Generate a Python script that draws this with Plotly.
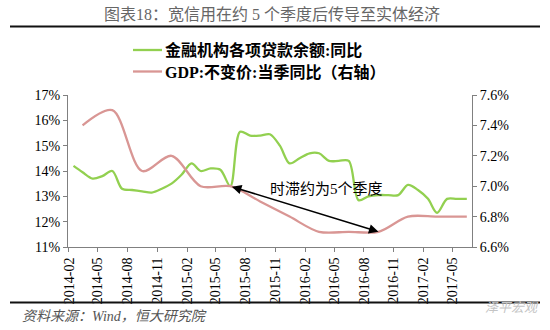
import plotly.graph_objects as go

# ---------------- data ----------------
loan_months = [
    "2014-02", "2014-03", "2014-04", "2014-05", "2014-06", "2014-07", "2014-08",
    "2014-09", "2014-10", "2014-11", "2014-12", "2015-01", "2015-02", "2015-03",
    "2015-04", "2015-05", "2015-06", "2015-07", "2015-08", "2015-09", "2015-10",
    "2015-11", "2015-12", "2016-01", "2016-02", "2016-03", "2016-04", "2016-05",
    "2016-06", "2016-07", "2016-08", "2016-09", "2016-10", "2016-11", "2016-12",
    "2017-01", "2017-02", "2017-03", "2017-04", "2017-05", "2017-06",
]
loan_yoy = [
    14.2, 13.95, 13.7, 13.8, 14.0, 13.3, 13.25,
    13.2, 13.15, 13.3, 13.5, 13.85, 14.3, 14.0,
    14.1, 14.05, 13.4, 15.55, 15.4, 15.4, 15.45,
    15.0, 14.3, 14.5, 14.7, 14.7, 14.4, 14.4,
    14.4, 12.85, 13.0, 13.05, 13.05, 13.05, 13.45,
    13.25, 12.9, 12.35, 12.9, 12.9, 12.9,
]

gdp_months = [
    "2014-03", "2014-06", "2014-09", "2014-12", "2015-03", "2015-06", "2015-09",
    "2015-12", "2016-03", "2016-06", "2016-09", "2016-12", "2017-03", "2017-06",
]
gdp_yoy = [7.4, 7.5, 7.1, 7.2, 7.0, 7.0, 6.9, 6.8, 6.7, 6.7, 6.7, 6.8, 6.8, 6.8]

tick_labels = [
    "2014-02", "2014-05", "2014-08", "2014-11", "2015-02", "2015-05", "2015-08",
    "2015-11", "2016-02", "2016-05", "2016-08", "2016-11", "2017-02", "2017-05",
]

left_range = [11, 17]
right_range = [6.6, 7.6]

title_text = "图表18：宽信用在约 5 个季度后传导至实体经济"
name_loan = "金融机构各项贷款余额:同比"
name_gdp = "GDP:不变价:当季同比（右轴）"
lag_text = "时滞约为5个季度"
source_text = "资料来源：Wind，恒大研究院"
watermark_text = "泽平宏观"

# ---------------- layout helpers ----------------
W, H = 550, 330
ML, MR, MT, MB = 68, 78, 95, 83
PW, PH = W - ML - MR, H - MT - MB


def px_x(px):
    return (px - ML) / PW


def px_y(py):
    return (H - MB - py) / PH


def mid(m):
    return m + "-15"


GREEN = "#92D050"
PINK = "#D99694"
SERIF = "Liberation Serif, Noto Sans CJK SC, serif"

fig = go.Figure()
fig.add_trace(go.Scatter(
    x=[mid(m) for m in loan_months], y=loan_yoy, name=name_loan,
    mode="lines", line=dict(color=GREEN, width=2.3, shape="spline", smoothing=0.9),
    yaxis="y", showlegend=False,
))
fig.add_trace(go.Scatter(
    x=[mid(m) for m in gdp_months], y=gdp_yoy, name=name_gdp,
    mode="lines", line=dict(color=PINK, width=2.3, shape="spline", smoothing=0.9),
    yaxis="y2", showlegend=False,
))


def right_to_left(v):
    return left_range[0] + (v - right_range[0]) / (right_range[1] - right_range[0]) * (left_range[1] - left_range[0])


i_start = loan_months.index("2015-06")
i_end = gdp_months.index("2016-09")

legend_font = dict(family=SERIF, size=16, color="black", weight="bold")

annotations = [
    # double-headed arrow
    dict(x=mid(gdp_months[i_end]), y=right_to_left(gdp_yoy[i_end]), xref="x", yref="y",
         ax=mid(loan_months[i_start]), ay=loan_yoy[i_start], axref="x", ayref="y",
         text="", showarrow=True, arrowhead=2, startarrowhead=2, arrowside="end+start",
         arrowsize=1.2, startarrowsize=1.2, arrowwidth=1.6, arrowcolor="black",
         standoff=0, startstandoff=0),
    dict(x="2016-04-06", y=13.28, xref="x", yref="y", text=lag_text, showarrow=False,
         font=dict(family=SERIF, size=15, color="black")),
    dict(x=px_x(272), y=px_y(15), xref="paper", yref="paper", text=title_text,
         showarrow=False, xanchor="center", yanchor="middle",
         font=dict(family=SERIF, size=16, color="#666666")),
    dict(x=px_x(20), y=px_y(316), xref="paper", yref="paper", text=source_text,
         showarrow=False, xanchor="left", yanchor="middle",
         font=dict(family=SERIF, size=14, color="#555555", style="italic")),
    dict(x=px_x(512), y=px_y(306), xref="paper", yref="paper", text=watermark_text,
         showarrow=False, xanchor="center", yanchor="middle",
         font=dict(family="Noto Sans CJK SC", size=13, color="#c4c4c4", style="italic")),
    # legend texts
    dict(x=px_x(163), y=px_y(50), xref="paper", yref="paper", text=name_loan,
         showarrow=False, xanchor="left", yanchor="middle", font=legend_font),
    dict(x=px_x(163), y=px_y(71.5), xref="paper", yref="paper", text=name_gdp,
         showarrow=False, xanchor="left", yanchor="middle", font=legend_font),
]

shapes = [
    dict(type="line", xref="paper", yref="paper", x0=px_x(10), x1=px_x(540),
         y0=px_y(26.5), y1=px_y(26.5), line=dict(color="#111111", width=2.2)),
    dict(type="line", xref="paper", yref="paper", x0=px_x(10), x1=px_x(540),
         y0=px_y(302.5), y1=px_y(302.5), line=dict(color="#111111", width=2.2)),
    # legend samples
    dict(type="line", xref="paper", yref="paper", x0=px_x(133), x1=px_x(162),
         y0=px_y(50), y1=px_y(50), line=dict(color=GREEN, width=2.3)),
    dict(type="line", xref="paper", yref="paper", x0=px_x(133), x1=px_x(162),
         y0=px_y(71.5), y1=px_y(71.5), line=dict(color=PINK, width=2.3)),
]

axis_font = dict(family=SERIF, size=14, color="black")

fig.update_layout(
    width=W, height=H,
    margin=dict(l=ML, r=MR, t=MT, b=MB, autoexpand=False),
    paper_bgcolor="white", plot_bgcolor="white",
    showlegend=False,
    xaxis=dict(
        type="date", range=["2014-01-29", "2017-07-01"],
        tickvals=[t + "-01" for t in tick_labels], ticktext=tick_labels,
        tickangle=-90, tickfont=axis_font, ticks="outside", ticklen=4,
        tickcolor="#808080", showline=True, linecolor="#808080", linewidth=1,
        showgrid=False, zeroline=False, fixedrange=True,
    ),
    yaxis=dict(
        range=left_range, dtick=1, ticksuffix="%", tickfont=axis_font,
        ticks="outside", ticklen=4, tickcolor="#808080", showline=True,
        linecolor="#808080", linewidth=1, showgrid=False, zeroline=False,
    ),
    yaxis2=dict(
        range=right_range, dtick=0.2, tickformat=".1f", ticksuffix="%",
        tickfont=axis_font, overlaying="y", side="right", ticks="outside",
        ticklen=4, tickcolor="#808080", showline=True, linecolor="#808080",
        linewidth=1, showgrid=False, zeroline=False,
    ),
    annotations=annotations,
    shapes=shapes,
)

fig.write_html("out.html")
